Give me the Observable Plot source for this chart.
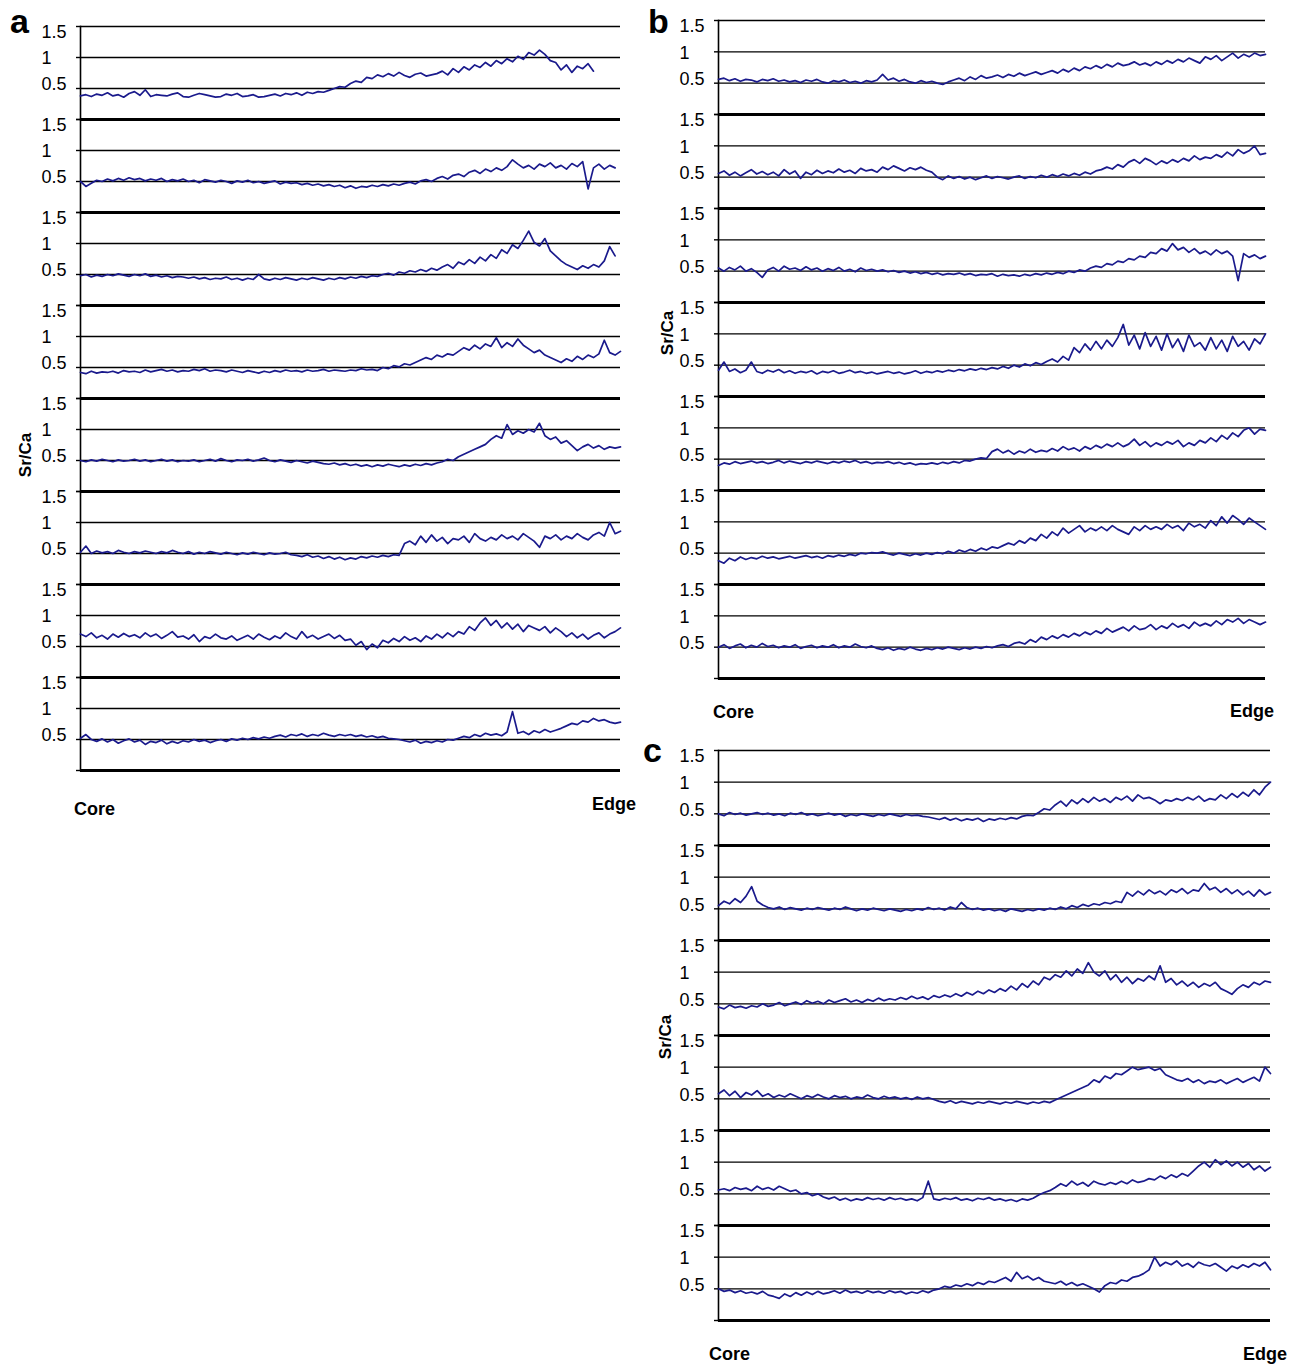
<!DOCTYPE html>
<html>
<head>
<meta charset="utf-8">
<script src="https://cdn.jsdelivr.net/npm/d3@7"></script>
<script src="https://cdn.jsdelivr.net/npm/@observablehq/plot@0.6"></script>
<style>
  body { margin: 0; background: #fff; }
  #fig { position: relative; width: 1305px; height: 1365px; font-family: "Liberation Sans", Arial, sans-serif; color: #000; }
  .panel { position: absolute; }
  .lbl { position: absolute; font-weight: bold; white-space: nowrap; line-height: 1; }
  .letter { font-size: 34px; }
  .end { font-size: 18px; }
  .ylab { font-size: 17px; transform: translate(-50%, -50%) rotate(-90deg); }
</style>
</head>
<body>
<div id="fig"></div>
<script>
// Sr/Ca transects, core (index 0) to edge (index 100), one array per otolith.

// Panel a
const a1 = [
  0.38,0.40,0.37,0.41,0.39,0.43,0.38,0.40,0.36,0.42,
  0.45,0.39,0.48,0.37,0.40,0.39,0.38,0.41,0.43,0.37,
  0.36,0.39,0.42,0.40,0.38,0.36,0.37,0.41,0.39,0.42,
  0.37,0.38,0.40,0.36,0.37,0.39,0.41,0.38,0.42,0.40,
  0.43,0.39,0.44,0.42,0.45,0.44,0.47,0.50,0.53,0.52,
  0.58,0.62,0.60,0.68,0.66,0.72,0.69,0.74,0.70,0.76,
  0.71,0.68,0.73,0.75,0.70,0.72,0.74,0.78,0.72,0.82,
  0.76,0.85,0.80,0.88,0.84,0.92,0.86,0.95,0.90,0.98,
  0.93,1.02,0.97,1.08,1.04,1.12,1.05,0.95,0.92,0.80,
  0.88,0.76,0.86,0.82,0.90,0.78];
const a2 = [
  0.50,0.42,0.47,0.52,0.50,0.54,0.51,0.55,0.52,0.56,
  0.53,0.55,0.51,0.54,0.52,0.55,0.50,0.53,0.51,0.54,
  0.50,0.52,0.48,0.53,0.51,0.49,0.52,0.50,0.47,0.51,
  0.49,0.52,0.48,0.50,0.47,0.49,0.51,0.46,0.49,0.47,
  0.48,0.45,0.47,0.44,0.46,0.43,0.45,0.42,0.44,0.40,
  0.43,0.39,0.42,0.41,0.44,0.42,0.45,0.43,0.46,0.44,
  0.47,0.49,0.46,0.51,0.53,0.50,0.55,0.58,0.54,0.60,
  0.62,0.58,0.65,0.68,0.63,0.70,0.66,0.72,0.68,0.74,
  0.85,0.78,0.72,0.76,0.70,0.78,0.74,0.80,0.72,0.76,
  0.70,0.79,0.74,0.82,0.38,0.72,0.78,0.70,0.76,0.72];
const a3 = [
  0.48,0.50,0.46,0.49,0.47,0.50,0.48,0.51,0.49,0.47,
  0.50,0.48,0.51,0.47,0.49,0.46,0.48,0.45,0.47,0.46,
  0.44,0.46,0.43,0.45,0.42,0.44,0.43,0.46,0.42,0.44,
  0.41,0.44,0.42,0.50,0.43,0.41,0.44,0.42,0.45,0.43,
  0.41,0.44,0.42,0.45,0.43,0.41,0.44,0.42,0.45,0.43,
  0.46,0.44,0.47,0.45,0.48,0.47,0.50,0.52,0.49,0.54,
  0.52,0.56,0.54,0.58,0.55,0.60,0.57,0.62,0.66,0.60,
  0.70,0.66,0.74,0.68,0.78,0.72,0.82,0.76,0.90,0.84,
  0.98,0.92,1.05,1.20,1.02,0.96,1.08,0.88,0.80,0.72,
  0.66,0.62,0.58,0.64,0.60,0.66,0.62,0.72,0.95,0.80];
const a4 = [
  0.42,0.40,0.44,0.41,0.43,0.42,0.44,0.41,0.45,0.43,
  0.44,0.42,0.46,0.43,0.45,0.47,0.44,0.46,0.43,0.45,
  0.44,0.47,0.45,0.48,0.44,0.46,0.45,0.43,0.46,0.44,
  0.42,0.45,0.43,0.41,0.44,0.42,0.45,0.43,0.46,0.44,
  0.45,0.43,0.46,0.44,0.45,0.47,0.44,0.46,0.45,0.44,
  0.46,0.45,0.48,0.46,0.47,0.45,0.50,0.48,0.53,0.51,
  0.56,0.54,0.58,0.62,0.66,0.63,0.70,0.67,0.72,0.70,
  0.76,0.82,0.78,0.86,0.80,0.88,0.84,0.98,0.82,0.90,
  0.84,0.96,0.86,0.80,0.74,0.78,0.70,0.66,0.62,0.58,
  0.64,0.60,0.68,0.63,0.70,0.66,0.72,0.94,0.74,0.70,0.76];
const a5 = [
  0.50,0.48,0.51,0.49,0.52,0.50,0.48,0.51,0.49,0.50,
  0.52,0.49,0.51,0.48,0.50,0.52,0.49,0.51,0.48,0.50,
  0.49,0.51,0.48,0.50,0.52,0.49,0.53,0.50,0.48,0.51,
  0.50,0.52,0.49,0.51,0.54,0.50,0.48,0.51,0.49,0.47,
  0.50,0.48,0.46,0.49,0.47,0.45,0.44,0.46,0.43,0.45,
  0.42,0.44,0.41,0.43,0.40,0.43,0.41,0.44,0.42,0.40,
  0.43,0.41,0.44,0.42,0.45,0.43,0.46,0.48,0.52,0.50,
  0.56,0.60,0.64,0.68,0.72,0.76,0.84,0.90,0.86,1.08,
  0.92,0.98,0.94,1.00,0.96,1.10,0.90,0.84,0.88,0.78,
  0.82,0.74,0.66,0.72,0.76,0.70,0.74,0.68,0.72,0.70,0.72];
const a6 = [
  0.52,0.62,0.50,0.54,0.51,0.53,0.50,0.55,0.52,0.50,
  0.53,0.51,0.54,0.52,0.50,0.53,0.51,0.55,0.52,0.50,
  0.53,0.49,0.52,0.50,0.53,0.51,0.49,0.52,0.50,0.48,
  0.51,0.49,0.52,0.50,0.48,0.51,0.49,0.50,0.52,0.48,
  0.47,0.45,0.48,0.44,0.46,0.42,0.45,0.41,0.44,0.40,
  0.43,0.41,0.45,0.43,0.46,0.44,0.47,0.45,0.48,0.47,
  0.66,0.70,0.64,0.78,0.68,0.80,0.70,0.76,0.66,0.74,
  0.72,0.78,0.68,0.82,0.74,0.70,0.76,0.72,0.80,0.74,
  0.78,0.72,0.82,0.76,0.70,0.60,0.78,0.74,0.80,0.72,
  0.78,0.74,0.82,0.76,0.72,0.80,0.84,0.78,1.00,0.82,0.86];
const a7 = [
  0.70,0.66,0.72,0.64,0.68,0.62,0.70,0.65,0.71,0.66,
  0.69,0.64,0.72,0.66,0.70,0.63,0.68,0.74,0.65,0.67,
  0.62,0.69,0.58,0.66,0.63,0.70,0.64,0.62,0.67,0.60,
  0.64,0.68,0.62,0.70,0.65,0.61,0.67,0.63,0.72,0.66,
  0.62,0.74,0.64,0.68,0.62,0.66,0.70,0.63,0.68,0.60,
  0.62,0.52,0.58,0.45,0.54,0.48,0.60,0.56,0.63,0.58,
  0.66,0.60,0.64,0.58,0.67,0.62,0.70,0.64,0.72,0.66,
  0.74,0.70,0.82,0.76,0.88,0.96,0.84,0.92,0.80,0.88,
  0.78,0.86,0.74,0.84,0.80,0.76,0.82,0.72,0.80,0.74,
  0.66,0.72,0.64,0.70,0.62,0.68,0.72,0.64,0.70,0.74,0.80];
const a8 = [
  0.52,0.58,0.50,0.47,0.51,0.46,0.50,0.44,0.48,0.51,
  0.46,0.49,0.42,0.47,0.45,0.49,0.43,0.47,0.44,0.48,
  0.46,0.50,0.47,0.49,0.45,0.48,0.50,0.47,0.51,0.49,
  0.52,0.50,0.53,0.51,0.54,0.52,0.55,0.57,0.54,0.58,
  0.56,0.59,0.55,0.58,0.56,0.60,0.57,0.55,0.58,0.56,
  0.58,0.55,0.57,0.54,0.56,0.53,0.55,0.52,0.51,0.50,
  0.48,0.46,0.49,0.44,0.47,0.45,0.48,0.46,0.50,0.49,
  0.52,0.55,0.53,0.58,0.55,0.60,0.57,0.59,0.56,0.62,
  0.95,0.60,0.63,0.58,0.64,0.61,0.66,0.62,0.65,0.68,
  0.72,0.76,0.74,0.80,0.78,0.84,0.80,0.82,0.78,0.76,0.78];

// Panel b
const b1 = [
  0.56,0.58,0.54,0.57,0.53,0.56,0.55,0.52,0.56,0.54,
  0.57,0.53,0.55,0.52,0.54,0.51,0.55,0.53,0.56,0.52,
  0.50,0.54,0.52,0.55,0.51,0.53,0.50,0.54,0.52,0.55,
  0.64,0.55,0.58,0.53,0.56,0.52,0.50,0.54,0.51,0.53,
  0.50,0.48,0.52,0.55,0.58,0.54,0.60,0.56,0.62,0.58,
  0.60,0.63,0.59,0.64,0.61,0.66,0.62,0.65,0.68,0.64,
  0.67,0.70,0.66,0.72,0.68,0.74,0.70,0.76,0.73,0.78,
  0.74,0.80,0.76,0.82,0.78,0.80,0.84,0.79,0.82,0.78,
  0.84,0.80,0.86,0.82,0.88,0.84,0.90,0.86,0.82,0.92,
  0.88,0.94,0.86,0.92,0.98,0.90,0.96,0.92,0.98,0.94,0.96];
const b2 = [
  0.56,0.60,0.53,0.58,0.52,0.57,0.62,0.55,0.59,0.54,
  0.58,0.52,0.62,0.55,0.60,0.48,0.58,0.54,0.61,0.56,
  0.60,0.57,0.63,0.58,0.61,0.56,0.64,0.60,0.62,0.58,
  0.66,0.62,0.68,0.64,0.60,0.65,0.62,0.66,0.61,0.58,
  0.50,0.46,0.52,0.48,0.51,0.47,0.50,0.46,0.49,0.52,
  0.48,0.51,0.49,0.47,0.50,0.52,0.48,0.51,0.49,0.53,
  0.50,0.54,0.51,0.55,0.52,0.56,0.53,0.58,0.55,0.60,
  0.62,0.66,0.63,0.70,0.66,0.74,0.78,0.72,0.80,0.76,
  0.70,0.76,0.72,0.78,0.74,0.80,0.76,0.84,0.78,0.82,
  0.80,0.86,0.82,0.90,0.84,0.94,0.88,0.92,1.00,0.86,0.88];
const b3 = [
  0.55,0.50,0.56,0.52,0.58,0.50,0.54,0.48,0.40,0.52,
  0.56,0.50,0.58,0.53,0.55,0.51,0.57,0.52,0.55,0.50,
  0.54,0.51,0.56,0.50,0.53,0.49,0.55,0.51,0.53,0.50,
  0.52,0.49,0.51,0.48,0.50,0.47,0.49,0.46,0.48,0.45,
  0.47,0.44,0.46,0.45,0.47,0.44,0.46,0.43,0.45,0.44,
  0.46,0.42,0.45,0.43,0.44,0.42,0.45,0.43,0.46,0.44,
  0.47,0.45,0.48,0.46,0.50,0.48,0.52,0.50,0.55,0.58,
  0.56,0.62,0.60,0.66,0.64,0.70,0.68,0.74,0.72,0.80,
  0.78,0.86,0.82,0.94,0.84,0.88,0.80,0.86,0.78,0.82,
  0.76,0.84,0.78,0.82,0.74,0.35,0.78,0.72,0.76,0.70,0.74];
const b4 = [
  0.42,0.55,0.40,0.44,0.38,0.42,0.55,0.40,0.37,0.42,
  0.39,0.43,0.38,0.41,0.37,0.40,0.38,0.41,0.36,0.40,
  0.38,0.41,0.37,0.39,0.42,0.38,0.40,0.37,0.39,0.36,
  0.38,0.40,0.37,0.39,0.36,0.38,0.41,0.37,0.40,0.38,
  0.41,0.39,0.42,0.40,0.43,0.41,0.44,0.42,0.45,0.43,
  0.46,0.44,0.48,0.45,0.50,0.47,0.52,0.49,0.54,0.51,
  0.56,0.60,0.55,0.64,0.58,0.78,0.70,0.84,0.74,0.88,
  0.76,0.90,0.80,0.94,1.15,0.82,0.98,0.76,1.02,0.80,
  0.96,0.74,1.00,0.78,0.92,0.72,0.98,0.80,0.86,0.74,
  0.94,0.76,0.90,0.72,0.96,0.80,0.88,0.74,0.92,0.84,1.00];
const b5 = [
  0.40,0.44,0.42,0.46,0.43,0.45,0.47,0.44,0.46,0.43,
  0.45,0.48,0.44,0.47,0.45,0.43,0.46,0.44,0.47,0.45,
  0.43,0.46,0.44,0.47,0.45,0.48,0.44,0.46,0.43,0.45,
  0.44,0.46,0.43,0.45,0.42,0.44,0.41,0.43,0.42,0.44,
  0.42,0.45,0.43,0.46,0.44,0.48,0.47,0.50,0.52,0.51,
  0.62,0.66,0.60,0.64,0.58,0.63,0.60,0.66,0.61,0.64,
  0.62,0.67,0.63,0.70,0.65,0.68,0.63,0.70,0.66,0.72,
  0.68,0.74,0.70,0.76,0.70,0.74,0.82,0.72,0.78,0.70,
  0.76,0.72,0.78,0.74,0.80,0.70,0.76,0.72,0.80,0.76,
  0.84,0.78,0.88,0.82,0.92,0.86,0.96,1.00,0.90,0.98,0.96];
const b6 = [
  0.38,0.34,0.42,0.38,0.44,0.40,0.43,0.41,0.45,0.42,
  0.44,0.41,0.43,0.45,0.42,0.44,0.46,0.43,0.45,0.42,
  0.46,0.44,0.47,0.45,0.48,0.46,0.50,0.49,0.51,0.50,
  0.52,0.49,0.47,0.50,0.48,0.46,0.49,0.47,0.50,0.48,
  0.51,0.49,0.53,0.50,0.55,0.52,0.56,0.53,0.58,0.55,
  0.60,0.58,0.62,0.66,0.63,0.70,0.66,0.74,0.70,0.80,
  0.74,0.84,0.78,0.90,0.82,0.88,0.94,0.84,0.90,0.86,
  0.92,0.86,0.94,0.88,0.84,0.80,0.92,0.86,0.94,0.88,
  0.92,0.88,0.96,0.90,0.94,0.86,0.98,0.92,0.96,0.90,
  1.02,0.94,1.08,0.98,1.10,1.04,0.96,1.06,1.00,0.94,0.88];
const b7 = [
  0.50,0.54,0.48,0.52,0.55,0.49,0.53,0.50,0.56,0.51,
  0.53,0.49,0.52,0.50,0.54,0.48,0.51,0.53,0.49,0.52,
  0.50,0.54,0.49,0.52,0.50,0.55,0.51,0.49,0.52,0.48,
  0.46,0.49,0.45,0.48,0.46,0.50,0.47,0.45,0.48,0.46,
  0.49,0.47,0.50,0.48,0.46,0.49,0.47,0.50,0.48,0.51,
  0.49,0.52,0.54,0.51,0.56,0.58,0.55,0.62,0.58,0.66,
  0.62,0.68,0.64,0.70,0.66,0.72,0.68,0.74,0.70,0.76,
  0.72,0.80,0.74,0.78,0.82,0.76,0.84,0.78,0.80,0.86,
  0.78,0.84,0.80,0.88,0.82,0.86,0.80,0.90,0.84,0.88,
  0.84,0.92,0.86,0.94,0.90,0.96,0.88,0.94,0.90,0.86,0.90];

// Panel c
const c1 = [
  0.50,0.47,0.52,0.49,0.51,0.48,0.50,0.52,0.49,0.51,
  0.48,0.50,0.47,0.51,0.49,0.52,0.48,0.50,0.47,0.49,
  0.51,0.48,0.50,0.46,0.49,0.47,0.50,0.48,0.46,0.49,
  0.47,0.50,0.48,0.46,0.49,0.47,0.48,0.46,0.45,0.43,
  0.41,0.44,0.40,0.43,0.39,0.42,0.40,0.43,0.38,0.42,
  0.40,0.43,0.41,0.44,0.42,0.46,0.48,0.47,0.52,0.58,
  0.56,0.64,0.70,0.62,0.72,0.66,0.74,0.68,0.76,0.70,
  0.74,0.68,0.76,0.72,0.78,0.70,0.80,0.74,0.76,0.72,
  0.66,0.72,0.70,0.74,0.71,0.76,0.72,0.78,0.70,0.74,
  0.72,0.80,0.74,0.82,0.76,0.84,0.78,0.88,0.80,0.92,1.00];
const c2 = [
  0.55,0.62,0.58,0.66,0.60,0.70,0.85,0.62,0.56,0.52,
  0.50,0.53,0.49,0.52,0.50,0.48,0.51,0.49,0.52,0.50,
  0.48,0.51,0.49,0.53,0.50,0.47,0.50,0.48,0.51,0.49,
  0.47,0.50,0.48,0.46,0.49,0.47,0.50,0.48,0.52,0.49,
  0.51,0.48,0.53,0.50,0.60,0.52,0.49,0.51,0.48,0.50,
  0.47,0.49,0.46,0.50,0.48,0.46,0.49,0.47,0.50,0.48,
  0.51,0.49,0.53,0.50,0.55,0.52,0.57,0.54,0.58,0.56,
  0.60,0.58,0.62,0.60,0.76,0.70,0.78,0.72,0.80,0.74,
  0.78,0.72,0.80,0.76,0.82,0.74,0.80,0.78,0.90,0.80,
  0.84,0.76,0.82,0.74,0.80,0.72,0.78,0.70,0.80,0.72,0.76];
const c3 = [
  0.45,0.42,0.48,0.44,0.46,0.43,0.47,0.45,0.50,0.46,
  0.48,0.52,0.47,0.50,0.53,0.49,0.55,0.51,0.54,0.50,
  0.56,0.52,0.55,0.58,0.53,0.56,0.52,0.57,0.54,0.59,
  0.55,0.58,0.56,0.60,0.57,0.62,0.58,0.61,0.57,0.63,
  0.60,0.64,0.61,0.66,0.62,0.68,0.64,0.70,0.66,0.72,
  0.68,0.74,0.70,0.78,0.72,0.82,0.76,0.86,0.80,0.92,
  0.88,0.96,0.92,1.02,0.94,1.05,0.98,1.15,1.00,0.94,
  1.02,0.88,0.96,0.84,0.92,0.82,0.90,0.86,0.94,0.88,
  1.10,0.84,0.90,0.80,0.86,0.78,0.84,0.76,0.82,0.78,
  0.84,0.74,0.70,0.65,0.74,0.80,0.76,0.84,0.80,0.86,0.84];
const c4 = [
  0.58,0.64,0.55,0.62,0.52,0.60,0.56,0.63,0.54,0.58,
  0.52,0.56,0.53,0.58,0.54,0.50,0.55,0.52,0.57,0.53,
  0.50,0.55,0.52,0.54,0.50,0.53,0.51,0.56,0.52,0.50,
  0.54,0.51,0.53,0.50,0.52,0.49,0.53,0.50,0.52,0.49,
  0.46,0.44,0.47,0.43,0.46,0.44,0.42,0.45,0.43,0.46,
  0.44,0.42,0.45,0.43,0.46,0.44,0.42,0.45,0.43,0.46,
  0.44,0.48,0.52,0.56,0.60,0.64,0.68,0.72,0.80,0.76,
  0.86,0.82,0.90,0.88,0.94,1.00,0.96,0.98,1.00,0.95,
  0.98,0.88,0.84,0.80,0.78,0.82,0.76,0.80,0.74,0.78,
  0.76,0.80,0.74,0.78,0.82,0.76,0.80,0.84,0.78,1.00,0.90];
const c5 = [
  0.56,0.58,0.55,0.60,0.57,0.59,0.55,0.62,0.57,0.60,
  0.56,0.62,0.58,0.54,0.56,0.50,0.52,0.47,0.50,0.45,
  0.42,0.45,0.40,0.43,0.39,0.42,0.40,0.44,0.41,0.43,
  0.40,0.44,0.41,0.43,0.40,0.42,0.39,0.44,0.70,0.42,
  0.40,0.43,0.41,0.44,0.40,0.42,0.39,0.43,0.41,0.44,
  0.40,0.42,0.39,0.41,0.38,0.42,0.40,0.43,0.48,0.52,
  0.55,0.60,0.66,0.62,0.70,0.64,0.68,0.62,0.70,0.66,
  0.64,0.68,0.65,0.70,0.66,0.72,0.68,0.70,0.74,0.72,
  0.78,0.74,0.80,0.76,0.82,0.78,0.86,0.94,1.00,0.92,
  1.04,0.96,1.02,0.94,1.00,0.92,0.98,0.88,0.94,0.86,0.92];
const c6 = [
  0.50,0.46,0.48,0.44,0.47,0.43,0.45,0.42,0.46,0.40,
  0.38,0.35,0.42,0.38,0.44,0.40,0.45,0.41,0.46,0.42,
  0.44,0.47,0.43,0.48,0.44,0.46,0.43,0.47,0.44,0.46,
  0.43,0.47,0.44,0.46,0.42,0.45,0.43,0.47,0.44,0.48,
  0.50,0.54,0.52,0.56,0.54,0.58,0.55,0.60,0.57,0.62,
  0.60,0.64,0.68,0.62,0.76,0.66,0.70,0.64,0.68,0.62,
  0.60,0.58,0.62,0.56,0.60,0.55,0.58,0.54,0.50,0.45,
  0.55,0.60,0.58,0.64,0.62,0.68,0.70,0.74,0.80,1.00,
  0.86,0.92,0.88,0.94,0.86,0.90,0.84,0.92,0.88,0.86,
  0.90,0.84,0.78,0.86,0.82,0.88,0.84,0.90,0.86,0.92,0.80];

const yTicks = [0, 0.5, 1, 1.5];
const yLabels = ["0.5", "1", "1.5"];
const lineColor = "#1a1a8c";

// One stacked column of transects: each row shares a 0–1.5 Sr/Ca scale.
function stack(series, {width, marginLeft, marginTop, rowHeight}) {
  const rows = series.flatMap((vals, k) => vals.map((v, i) => ({row: k, i, v})));
  const labelAxis = (value, dy) => Plot.axisY([value], {
    tickSize: 0, tickPadding: 39, textAnchor: "start", dy,
    fontSize: 18, label: null, tickFormat: () => yLabels[yTicks.indexOf(value) - 1]
  });
  return Plot.plot({
    width,
    height: marginTop + rowHeight * series.length + 8,
    marginLeft, marginTop, marginRight: 10, marginBottom: 8,
    x: {domain: [0, 100], axis: null},
    y: {domain: [0, 1.5], axis: null, label: null},
    fy: {domain: series.map((_, k) => k), padding: 0, axis: null},
    facet: {data: rows, y: "row"},
    style: {fontFamily: "'Liberation Sans', Arial, sans-serif", fontSize: "18px", color: "#000", background: "transparent", overflow: "visible"},
    marks: [
      Plot.ruleY([0.5, 1, 1.5], {stroke: "#000", strokeWidth: 1.4}),
      Plot.axisY(yTicks, {tickSize: 4, tickFormat: () => "", label: null, strokeWidth: 1.4}),
      Plot.frame({anchor: "left", stroke: "#000", strokeWidth: 1.6}),
      Plot.line(rows, {x: "i", y: "v", stroke: lineColor, strokeWidth: 1.7}),
      Plot.ruleY([0], {stroke: "#000", strokeWidth: 3.2}),
      labelAxis(1.5, 6),
      labelAxis(1, 1),
      labelAxis(0.5, -4)
    ]
  });
}

const fig = document.getElementById("fig");
function place(node, left, top) {
  const div = document.createElement("div");
  div.className = "panel";
  div.style.left = left + "px";
  div.style.top = top + "px";
  div.appendChild(node);
  fig.appendChild(div);
}

place(stack([a1, a2, a3, a4, a5, a6, a7, a8], {width: 630, marginLeft: 80, marginTop: 22, rowHeight: 751 / 8}), 0, 0);
place(stack([b1, b2, b3, b4, b5, b6, b7], {width: 635, marginLeft: 78, marginTop: 19, rowHeight: 660 / 7}), 640, 0);
place(stack([c1, c2, c3, c4, c5, c6], {width: 640, marginLeft: 78, marginTop: 19, rowHeight: 572 / 6}), 640, 730);

function label(text, cls, left, top) {
  const d = document.createElement("div");
  d.className = "lbl " + cls;
  d.textContent = text;
  d.style.left = left + "px";
  d.style.top = top + "px";
  fig.appendChild(d);
}
label("a", "letter", 10, 4);
label("b", "letter", 648, 4);
label("c", "letter", 643, 733);
label("Sr/Ca", "ylab", 25, 455);
label("Sr/Ca", "ylab", 667, 333);
label("Sr/Ca", "ylab", 665, 1037);
label("Core", "end", 74, 800);
label("Edge", "end", 592, 795);
label("Core", "end", 713, 703);
label("Edge", "end", 1230, 702);
label("Core", "end", 709, 1345);
label("Edge", "end", 1243, 1345);
</script>
</body>
</html>
